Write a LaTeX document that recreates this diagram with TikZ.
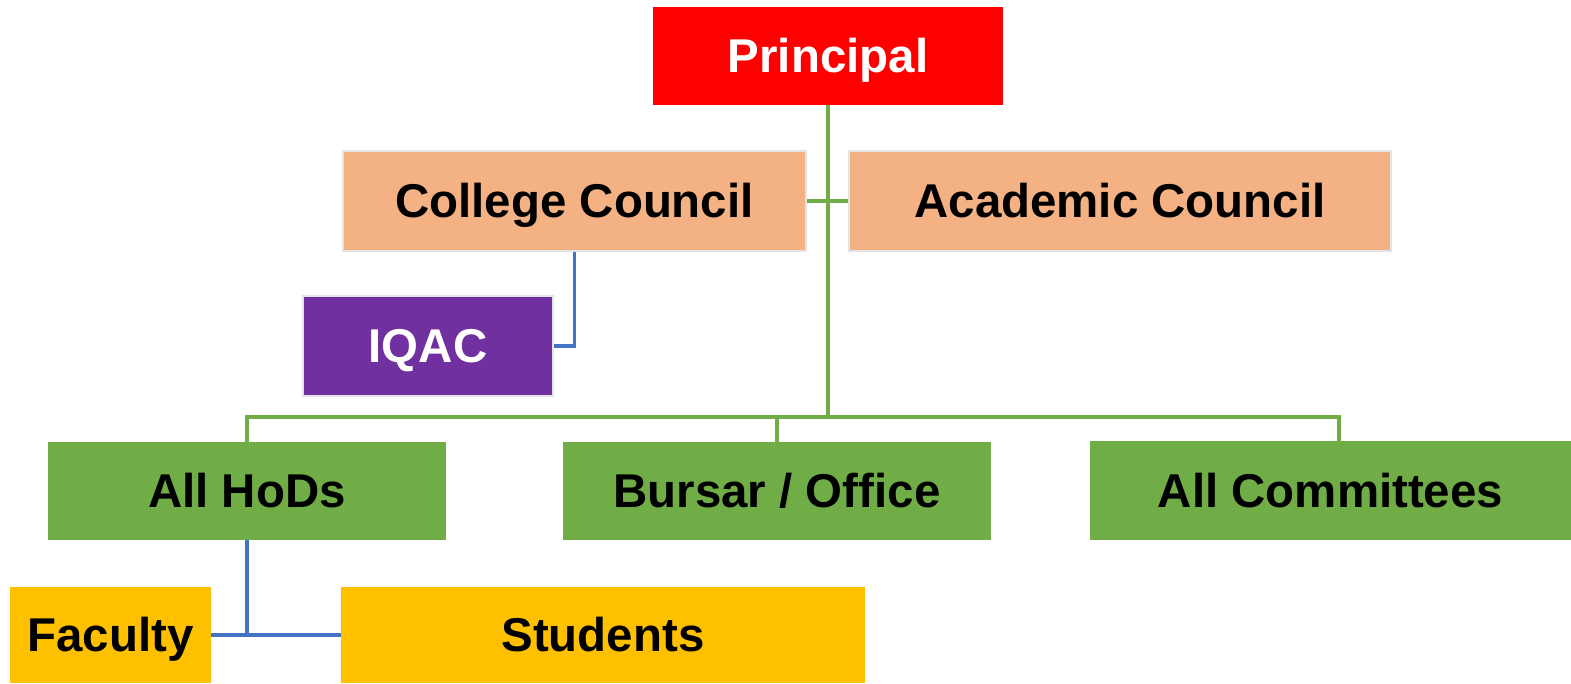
\documentclass[tikz,border=0pt]{standalone}
\usepackage{fontspec}
\setmainfont{Liberation Sans}
\usepackage{tikz}

\definecolor{redbox}{HTML}{FF0000}
\definecolor{peach}{HTML}{F4B183}
\definecolor{purplebox}{HTML}{7030A0}
\definecolor{greenbox}{HTML}{70AD47}
\definecolor{goldbox}{HTML}{FFC000}
\definecolor{blueline}{HTML}{4472C4}
\definecolor{edgegray}{HTML}{E4E4E4}

\tikzset{
    unit/.style={inner sep=0pt, text height=19.3pt, text depth=0pt,
        font=\bfseries\fontsize{27}{32}\selectfont},
    gline/.style={draw=greenbox, line width=1.9pt},
    bline/.style={draw=blueline, line width=1.9pt}
}

\begin{document}
\begin{tikzpicture}[x=0.02cm, y=-0.02cm]
    \useasboundingbox (0,0) rectangle (1571,683);

    % top
    \node[unit, fill=redbox, text=white, minimum width=7cm, minimum height=1.96cm] (principal) at (828,56) {Principal};

    % councils
    \node[unit, fill=peach, draw=edgegray, line width=1.2pt, minimum width=9.26cm, minimum height=2cm] (college) at (574.5,201) {College Council};
    \node[unit, fill=peach, draw=edgegray, line width=1.2pt, minimum width=10.84cm, minimum height=2cm] (academic) at (1120,201) {Academic Council};
    \node[unit, fill=purplebox, text=white, draw=edgegray, line width=1.2pt, minimum width=5cm, minimum height=2cm] (iqac) at (428,346) {IQAC};

    % second level
    \node[unit, fill=greenbox, minimum width=7.96cm, minimum height=1.96cm] (hods) at (247,491) {All HoDs};
    \node[unit, fill=greenbox, minimum width=8.56cm, minimum height=1.96cm] (bursar) at (777,491) {Bursar / Office};
    \node[unit, fill=greenbox, minimum width=9.62cm, minimum height=1.98cm] (committees) at (1330.5,490.5) {All Committees};

    % bottom
    \node[unit, fill=goldbox, minimum width=4.02cm, minimum height=1.92cm] (faculty) at (110.5,635) {Faculty};
    \node[unit, fill=goldbox, minimum width=10.48cm, minimum height=1.92cm] (students) at (603,635) {Students};

    \coordinate (hub) at (828,417);
    \coordinate (cdrop) at (1339,441);

    \draw[gline] (principal.south) -- (hub);
    \draw[gline] (college.east) -- (academic.west);
    \draw[gline] (hods.north) |- (hub) -| (cdrop);
    \draw[gline] (bursar.north) -- (bursar.north |- hub);

    \draw[bline] (college.south) |- (iqac.east);
    \draw[bline] (hods.south) -- (hods.south |- faculty.east);
    \draw[bline] (faculty.east) -- (students.west);
\end{tikzpicture}
\end{document}
